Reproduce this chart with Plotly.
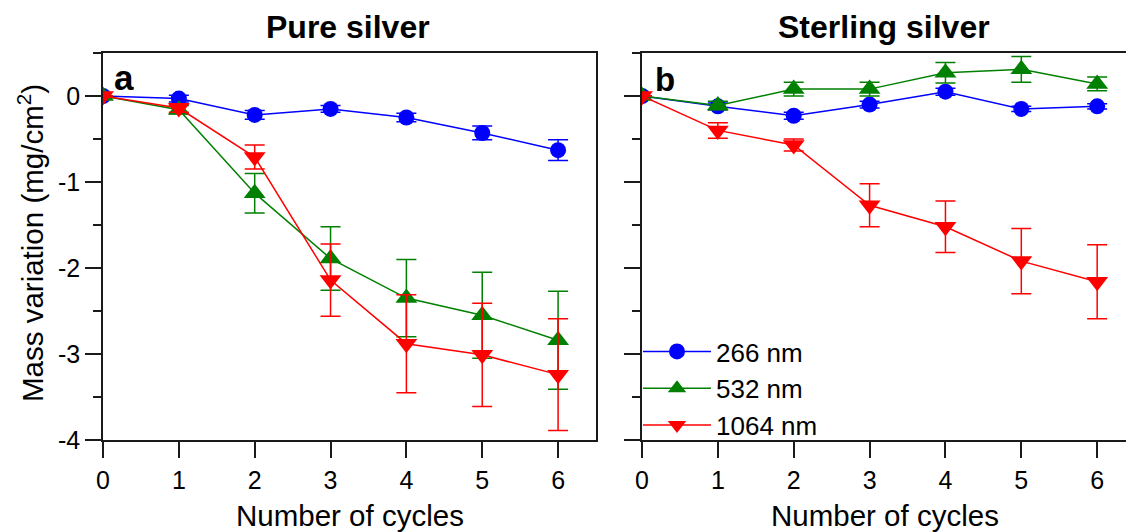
import plotly.graph_objects as go

# ---------------- data ----------------
cycles = [0, 1, 2, 3, 4, 5, 6]

pure_266 = [0, -0.03, -0.22, -0.15, -0.25, -0.43, -0.63]
pure_266_err = [0.0, 0.04, 0.05, 0.04, 0.05, 0.08, 0.12]
pure_532 = [0, -0.16, -1.13, -1.89, -2.35, -2.55, -2.84]
pure_532_err = [0.0, 0.05, 0.23, 0.37, 0.45, 0.50, 0.57]
pure_1064 = [0, -0.14, -0.71, -2.14, -2.88, -3.01, -3.24]
pure_1064_err = [0.0, 0.05, 0.14, 0.42, 0.57, 0.60, 0.65]

sterling_266 = [0, -0.12, -0.23, -0.10, 0.05, -0.15, -0.12]
sterling_266_err = [0.0, 0.04, 0.04, 0.04, 0.04, 0.03, 0.03]
sterling_532 = [0, -0.11, 0.08, 0.08, 0.27, 0.31, 0.14]
sterling_532_err = [0.0, 0.05, 0.08, 0.08, 0.12, 0.15, 0.08]
sterling_1064 = [0, -0.40, -0.57, -1.27, -1.52, -1.92, -2.16]
sterling_1064_err = [0.0, 0.09, 0.07, 0.25, 0.30, 0.38, 0.43]

series_names = ["266 nm", "532 nm", "1064 nm"]
colors = ["#0000FF", "#008000", "#FF0000"]
symbols = ["circle", "triangle-up", "triangle-down"]
sizes = [16, 19, 19]

y_tickvals = [-4, -3, -2, -1, 0]
y_ticktext = ["-4", "-3", "-2", "-1", "0"]
x_tickvals = [0, 1, 2, 3, 4, 5, 6]

FONT = "Arial, Liberation Sans, sans-serif"
W, H = 1126, 532
AX = "#1a1a1a"


def px(x):
    return x / W


def py(y):
    return 1 - y / H


fig = go.Figure()

pure = [(pure_266, pure_266_err), (pure_532, pure_532_err), (pure_1064, pure_1064_err)]
sterl = [(sterling_266, sterling_266_err), (sterling_532, sterling_532_err),
         (sterling_1064, sterling_1064_err)]

for i, (vals, err) in enumerate(pure):
    fig.add_trace(go.Scatter(
        x=cycles, y=vals, mode="lines+markers", name=series_names[i],
        xaxis="x", yaxis="y", showlegend=False,
        line=dict(color=colors[i], width=1.5),
        marker=dict(symbol=symbols[i], size=sizes[i], color=colors[i]),
        error_y=dict(type="data", array=err, color=colors[i], thickness=1.5, width=10),
    ))

for i, (vals, err) in enumerate(sterl):
    fig.add_trace(go.Scatter(
        x=cycles, y=vals, mode="lines+markers", name=series_names[i],
        xaxis="x2", yaxis="y2", showlegend=True,
        line=dict(color=colors[i], width=1.5),
        marker=dict(symbol=symbols[i], size=sizes[i], color=colors[i]),
        error_y=dict(type="data", array=err, color=colors[i], thickness=1.5, width=10),
    ))

ydom = [py(440), py(53)]
common_x = dict(
    tickmode="array", tickvals=x_tickvals, ticks="outside", ticklen=16, tickwidth=1.5,
    tickcolor=AX, showline=True, linewidth=1.5, linecolor=AX, mirror=True,
    showgrid=False, zeroline=False, tickfont=dict(family=FONT, size=25, color="black"),
    ticklabelstandoff=1, automargin=False,
)
common_y = dict(
    domain=ydom, range=[-4, 0.5], tickmode="array", tickvals=y_tickvals, ticktext=y_ticktext,
    ticks="outside", ticklen=16, tickwidth=1.5, tickcolor=AX,
    minor=dict(tickmode="linear", tick0=0, dtick=0.5, ticks="outside", ticklen=8,
               tickwidth=1.5, tickcolor=AX),
    showline=True, linewidth=1.5, linecolor=AX, showgrid=False, zeroline=False,
    tickfont=dict(family=FONT, size=25, color="black"), ticklabelstandoff=0,
    automargin=False,
)

fig.update_layout(
    width=W, height=H,
    margin=dict(l=0, r=0, t=0, b=0, pad=0, autoexpand=False),
    paper_bgcolor="white", plot_bgcolor="white",
    font=dict(family=FONT, color="black"),
    xaxis=dict(domain=[px(103), px(596)], range=[0, 6.5], anchor="y", **common_x),
    yaxis=dict(anchor="x", mirror=True, **common_y),
    xaxis2=dict(domain=[px(642), 1.0], range=[0, 6.38], anchor="y2", **common_x),
    yaxis2=dict(anchor="x2", mirror=False, showticklabels=False, **common_y),
    legend=dict(x=px(638), y=py(328), xanchor="left", yanchor="top",
                font=dict(family=FONT, size=26, color="black"),
                bgcolor="rgba(0,0,0,0)", tracegroupgap=0, itemwidth=68),
    showlegend=True,
)

annotations = [
    dict(text="<b>Pure silver</b>", x=px(348), y=py(27), font=dict(size=32)),
    dict(text="<b>Sterling silver</b>", x=px(884), y=py(27), font=dict(size=32)),
    dict(text="<b>a</b>", x=px(112), y=py(77), xanchor="left", font=dict(size=35)),
    dict(text="<b>b</b>", x=px(653), y=py(79), xanchor="left", font=dict(size=33)),
    dict(text="Number of cycles", x=px(350), y=py(515), font=dict(size=29.5)),
    dict(text="Number of cycles", x=px(885), y=py(515), font=dict(size=29.5)),
    dict(text="Mass variation (mg/cm<sup>2</sup>)", x=px(30), y=py(243),
         textangle=-90, font=dict(size=29.5)),
]
for a in annotations:
    a.setdefault("xanchor", "center")
    a.update(xref="paper", yref="paper", yanchor="middle", showarrow=False)
    a["font"] = dict(family=FONT, color="black", **a["font"])
fig.update_layout(annotations=annotations)

fig.write_html(
    "out.html",
    config={"displayModeBar": False},
    post_script="document.body.style.margin='0';document.body.style.overflow='hidden';",
)
